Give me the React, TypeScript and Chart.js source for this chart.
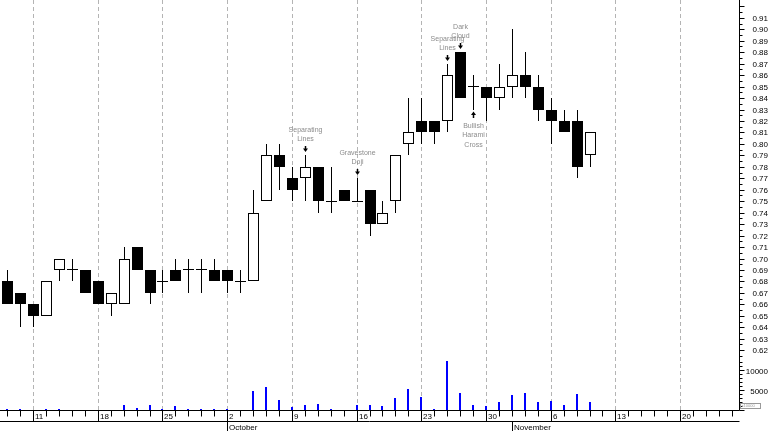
import React, { useEffect, useRef } from 'react';
import { Chart, registerables } from 'chart.js';

Chart.register(...registerables);

// Trading days (categories)
const days = [
  '2000-09-07', '2000-09-08', '2000-09-11', '2000-09-12', '2000-09-13', '2000-09-14', '2000-09-15',
  '2000-09-18', '2000-09-19', '2000-09-20', '2000-09-21', '2000-09-22', '2000-09-25', '2000-09-26',
  '2000-09-27', '2000-09-28', '2000-09-29', '2000-10-02', '2000-10-03', '2000-10-04', '2000-10-05',
  '2000-10-06', '2000-10-09', '2000-10-10', '2000-10-11', '2000-10-12', '2000-10-13', '2000-10-16',
  '2000-10-17', '2000-10-18', '2000-10-19', '2000-10-20', '2000-10-23', '2000-10-24', '2000-10-25',
  '2000-10-26', '2000-10-27', '2000-10-30', '2000-10-31', '2000-11-01', '2000-11-02', '2000-11-03',
  '2000-11-06', '2000-11-07', '2000-11-08', '2000-11-09',
];

const openP = [
  0.68, 0.67, 0.66, 0.65, 0.69, 0.69, 0.69, 0.68, 0.66, 0.66,
  0.71, 0.69, 0.68, 0.69, 0.69, 0.69, 0.69, 0.69, 0.68, 0.68,
  0.75, 0.79, 0.77, 0.77, 0.78, 0.75, 0.76, 0.75, 0.76, 0.73,
  0.75, 0.80, 0.82, 0.82, 0.82, 0.88, 0.85, 0.85, 0.84, 0.85,
  0.86, 0.85, 0.83, 0.82, 0.82, 0.79,
];
const highP = [
  0.69, 0.67, 0.66, 0.68, 0.70, 0.70, 0.69, 0.68, 0.67, 0.71,
  0.71, 0.69, 0.69, 0.70, 0.70, 0.70, 0.70, 0.69, 0.69, 0.76,
  0.80, 0.80, 0.78, 0.79, 0.78, 0.78, 0.76, 0.77, 0.76, 0.75,
  0.79, 0.84, 0.84, 0.82, 0.87, 0.88, 0.86, 0.85, 0.87, 0.90,
  0.88, 0.86, 0.84, 0.83, 0.83, 0.81,
];
const lowP = [
  0.66, 0.64, 0.64, 0.65, 0.68, 0.68, 0.67, 0.66, 0.65, 0.66,
  0.69, 0.66, 0.67, 0.68, 0.67, 0.67, 0.68, 0.67, 0.67, 0.68,
  0.75, 0.76, 0.75, 0.75, 0.74, 0.74, 0.75, 0.75, 0.72, 0.73,
  0.74, 0.79, 0.80, 0.80, 0.81, 0.84, 0.83, 0.82, 0.83, 0.84,
  0.84, 0.82, 0.80, 0.81, 0.77, 0.78,
];
const closeP = [
  0.66, 0.66, 0.65, 0.68, 0.70, 0.69, 0.67, 0.66, 0.67, 0.70,
  0.69, 0.67, 0.68, 0.68, 0.69, 0.69, 0.68, 0.68, 0.68, 0.74,
  0.79, 0.78, 0.76, 0.78, 0.75, 0.75, 0.75, 0.75, 0.73, 0.74,
  0.79, 0.81, 0.81, 0.81, 0.86, 0.84, 0.85, 0.84, 0.85, 0.86,
  0.85, 0.83, 0.82, 0.81, 0.78, 0.81,
];
const volume = [
  250, 250, 0, 250, 250, 0, 0, 0, 0, 1250,
  600, 1250, 250, 1000, 200, 250, 150, 250, 0, 4800,
  5800, 2600, 800, 1300, 1500, 250, 0, 1300, 1300, 1000,
  3000, 5200, 3300, 250, 12300, 4200, 1200, 1100, 2100, 3800,
  4200, 2100, 2300, 1200, 4000, 2100,
];

const weekTickLabels = ['11', '18', '25', '2', '9', '16', '23', '30', '6', '13', '20'];
const monthLabels = ['October', 'November'];
const priceTickLabels = [
  '0.62', '0.63', '0.64', '0.65', '0.66', '0.67', '0.68', '0.69', '0.70', '0.71',
  '0.72', '0.73', '0.74', '0.75', '0.76', '0.77', '0.78', '0.79', '0.80', '0.81',
  '0.82', '0.83', '0.84', '0.85', '0.86', '0.87', '0.88', '0.89', '0.90', '0.91',
];
const volumeTickLabels = ['5000', '10000'];

const annotations = [
  { day: '2000-10-10', text: ['Separating', 'Lines'], dir: 'down' },
  { day: '2000-10-16', text: ['Gravestone', 'Doji'], dir: 'down' },
  { day: '2000-10-25', text: ['Separating', 'Lines'], dir: 'down' },
  { day: '2000-10-26', text: ['Dark', 'Cloud'], dir: 'down' },
  { day: '2000-10-27', text: ['Bullish', 'Harami', 'Cross'], dir: 'up' },
];

const X_MIN = -0.556;
const X_MAX = 56.55;

function buildCalendar(): Date[] {
  const [y, m, d] = days[0].split('-').map(Number);
  const cur = new Date(y, m - 1, d);
  const out: Date[] = [];
  while (out.length <= Math.floor(X_MAX)) {
    const wd = cur.getDay();
    if (wd !== 0 && wd !== 6) out.push(new Date(cur.getTime()));
    cur.setDate(cur.getDate() + 1);
  }
  return out;
}

const FONT = '"Liberation Sans", Arial, sans-serif';

export default function App() {
  const ref = useRef<HTMLCanvasElement>(null);

  useEffect(() => {
    const canvas = ref.current;
    if (!canvas) return;
    const calendar = buildCalendar();
    const idx = days.map((_, i) => i);
    const isDoji = (i: number) => openP[i] === closeP[i];

    const bodyData = idx.map((i) => ({
      x: i,
      y: isDoji(i) ? [openP[i] - 0.00043, openP[i] + 0.00043] : [openP[i], closeP[i]],
    }));
    const wickData = idx.map((i) => ({ x: i, y: [lowP[i], highP[i]] }));
    const volData = idx.map((i) => ({ x: i, y: volume[i] }));

    const line = (ctx: CanvasRenderingContext2D, x1: number, y1: number, x2: number, y2: number) => {
      ctx.beginPath();
      ctx.moveTo(x1, y1);
      ctx.lineTo(x2, y2);
      ctx.stroke();
    };

    const axesPlugin = {
      id: 'customAxes',
      beforeDatasetsDraw(chart: any) {
        const { ctx, chartArea, scales } = chart;
        ctx.save();
        ctx.strokeStyle = '#b4b4b4';
        ctx.lineWidth = 1;
        ctx.setLineDash([4, 3]);
        calendar.forEach((d, i) => {
          if (d.getDay() === 1) {
            const px = Math.round(scales.x.getPixelForValue(i)) + 0.5;
            line(ctx, px, chartArea.top, px, chartArea.bottom);
          }
        });
        ctx.restore();
      },
      beforeDatasetDraw(chart: any, args: any) {
        chart.ctx.save();
        if (args.index !== 2) chart.ctx.translate(0.5, 0);
      },
      afterDatasetDraw(chart: any) {
        chart.ctx.restore();
      },
      afterDatasetsDraw(chart: any) {
        const { ctx, chartArea, scales } = chart;
        const xs = scales.x;
        const ys = scales.y;
        const yv = scales.yv;
        ctx.save();
        ctx.strokeStyle = '#000';
        ctx.fillStyle = '#000';
        ctx.lineWidth = 1;
        const bottom = Math.round(chartArea.bottom) + 0.5;
        const right = Math.round(chartArea.right) + 0.5;
        const lower = bottom + 11;
        line(ctx, 0, bottom, right, bottom);
        line(ctx, 0, lower, right, lower);
        // day ticks, week labels, month labels
        ctx.font = '8px ' + FONT;
        ctx.textBaseline = 'middle';
        ctx.textAlign = 'left';
        let w = 0;
        let prevMonth = calendar[0].getMonth();
        let mIdx = 0;
        calendar.forEach((d, i) => {
          const px = Math.round(xs.getPixelForValue(i)) + 0.5;
          const monday = d.getDay() === 1;
          line(ctx, px, bottom, px, monday ? lower : bottom + 6);
          if (monday && w < weekTickLabels.length) {
            ctx.fillText(weekTickLabels[w], px + 1.5, bottom + 6);
            w++;
          }
          if (d.getMonth() !== prevMonth) {
            prevMonth = d.getMonth();
            if (mIdx < monthLabels.length) {
              line(ctx, px, lower, px, chart.height);
              ctx.fillText(monthLabels[mIdx], px + 1.5, lower + 6);
              mIdx++;
            }
          }
        });
        // right axis
        line(ctx, right, 0, right, bottom);
        const pVals = priceTickLabels.map(Number);
        const pMin = Math.min(...pVals) - 0.005;
        const pMax = Math.max(...pVals) + 0.01;
        for (let h = Math.round(pMin * 200); h <= Math.round(pMax * 200); h++) {
          const p = h / 200;
          const py = Math.round(ys.getPixelForValue(p)) + 0.5;
          line(ctx, right, py, right + (h % 2 === 0 ? 5 : 3), py);
        }
        ctx.textAlign = 'right';
        priceTickLabels.forEach((t) => {
          const py = Math.round(ys.getPixelForValue(Number(t))) + 0.5;
          ctx.fillText(t, 768, py);
        });
        const vMaxTick = Math.max(...volumeTickLabels.map(Number));
        for (let v = 0; v <= vMaxTick + 2000; v += 1000) {
          const py = Math.round(yv.getPixelForValue(v)) + 0.5;
          line(ctx, right, py, right + (v % 5000 === 0 ? 5 : 3), py);
        }
        volumeTickLabels.forEach((t) => {
          const py = Math.round(yv.getPixelForValue(Number(t))) + 1.5;
          ctx.fillText(t, 768, py);
        });
        // x10000 box
        ctx.strokeStyle = '#9a9a9a';
        ctx.strokeRect(right + 1, bottom - 7, 20, 5);
        ctx.fillStyle = '#9a9a9a';
        ctx.font = '4px ' + FONT;
        ctx.textAlign = 'left';
        ctx.fillText('x10000', right + 2, bottom - 4.5);

        // annotations
        ctx.font = '7px ' + FONT;
        ctx.textAlign = 'center';
        annotations.forEach((a) => {
          const i = days.indexOf(a.day);
          const px = Math.round(xs.getPixelForValue(i)) + 0.5;
          ctx.fillStyle = '#000';
          ctx.strokeStyle = '#000';
          ctx.lineWidth = 1.5;
          if (a.dir === 'down') {
            const tip = Math.round(ys.getPixelForValue(highP[i])) - 3;
            line(ctx, px, tip - 6, px, tip - 2);
            ctx.beginPath();
            ctx.moveTo(px - 2.5, tip - 3.5);
            ctx.lineTo(px + 2.5, tip - 3.5);
            ctx.lineTo(px, tip);
            ctx.closePath();
            ctx.fill();
            ctx.fillStyle = '#8c8c8c';
            const n = a.text.length;
            a.text.forEach((t, k) => {
              ctx.fillText(t, px, tip - 12.5 - (n - 1 - k) * 9.7);
            });
          } else {
            const tip = Math.round(ys.getPixelForValue(lowP[i])) + 1.5;
            line(ctx, px, tip + 2, px, tip + 6.5);
            ctx.beginPath();
            ctx.moveTo(px - 2.5, tip + 3.5);
            ctx.lineTo(px + 2.5, tip + 3.5);
            ctx.lineTo(px, tip);
            ctx.closePath();
            ctx.fill();
            ctx.fillStyle = '#8c8c8c';
            a.text.forEach((t, k) => {
              ctx.fillText(t, px, tip + 14.5 + k * 9.5);
            });
          }
        });
        ctx.restore();
      },
    };

    const chart = new Chart(canvas, {
      type: 'bar',
      data: {
        datasets: [
          {
            label: 'Body',
            data: bodyData as any,
            yAxisID: 'y',
            backgroundColor: idx.map((i) => (closeP[i] > openP[i] ? '#ffffff' : '#000000')),
            borderColor: '#000000',
            borderWidth: idx.map((i) => (isDoji(i) ? 0 : 1)),
            borderSkipped: false,
            barThickness: 11,
            grouped: false,
            inflateAmount: 0,
            order: 1,
          } as any,
          {
            label: 'Wick',
            data: wickData as any,
            yAxisID: 'y',
            backgroundColor: '#000000',
            borderWidth: 0,
            barThickness: 1,
            grouped: false,
            inflateAmount: 0,
            order: 2,
          } as any,
          {
            label: 'Volume',
            data: volData as any,
            yAxisID: 'yv',
            backgroundColor: '#0000ff',
            borderWidth: 0,
            barThickness: 2,
            grouped: false,
            inflateAmount: 0,
            order: 3,
          } as any,
        ],
      },
      options: {
        animation: false,
        responsive: false,
        devicePixelRatio: 1,
        events: [],
        layout: { padding: { left: 0, top: 0, right: 31, bottom: 21 } },
        plugins: { legend: { display: false }, tooltip: { enabled: false } },
        scales: {
          x: { type: 'linear', min: X_MIN, max: X_MAX, display: false, offset: false, alignToPixels: true },
          y: { type: 'linear', min: 0.5678, max: 0.92557, display: false, alignToPixels: true },
          yv: { type: 'linear', min: 0, max: 102500, display: false, alignToPixels: true },
        },
      } as any,
      plugins: [axesPlugin],
    });
    return () => chart.destroy();
  }, []);

  return (
    <div style={{ position: 'absolute', left: 0, top: 0, width: 770, height: 431, background: '#fff' }}>
      <canvas ref={ref} width={770} height={431} style={{ display: 'block' }} />
    </div>
  );
}
